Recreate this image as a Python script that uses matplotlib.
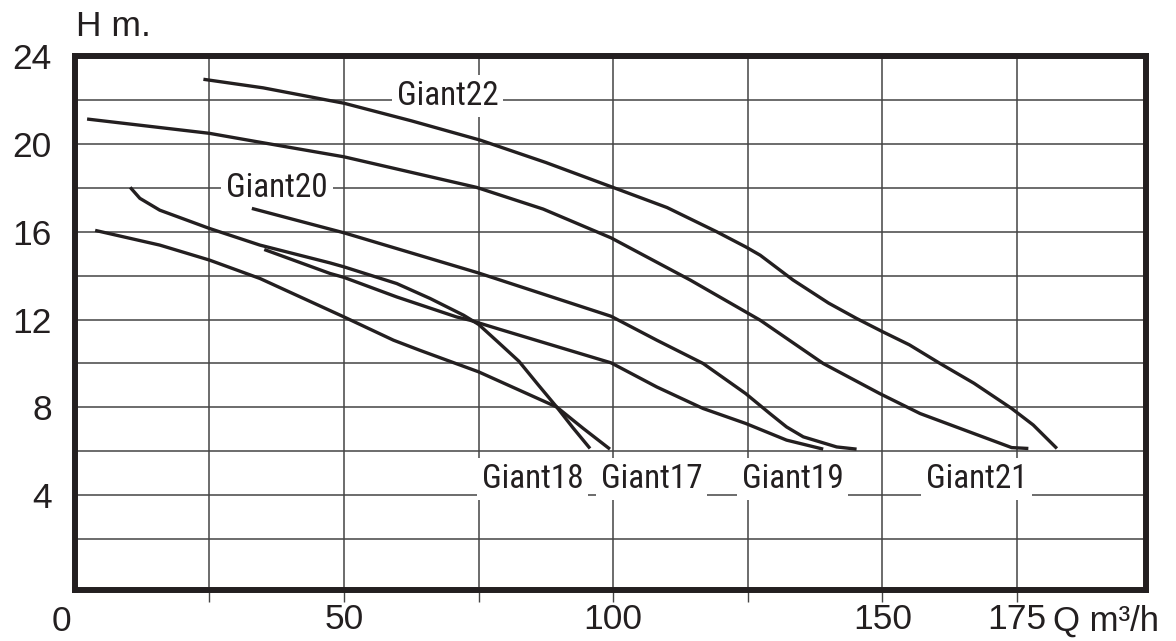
import matplotlib
matplotlib.use("Agg")
import matplotlib.pyplot as plt
from matplotlib import font_manager

# -------------------------------------------------
# Data
# -------------------------------------------------

# Giant22 (top curve)
g22_q = [23.9, 35.0, 46.1, 50.0, 62.5, 75.3, 87.5, 99.6, 110.0, 119.2, 124.6, 127.3,
         133.4, 140.0, 145.2, 150.0, 155.0, 160.7, 167.0, 174.0, 178.0, 182.4]
g22_h = [22.94, 22.55, 22.03, 21.85, 21.05, 20.17, 19.15, 18.05, 17.1, 16.0, 15.31, 14.93,
         13.8, 12.75, 12.05, 11.45, 10.85, 10.0, 9.1, 7.95, 7.2, 6.13]

# Giant21
g21_q = [2.3, 25.0, 33.8, 50.0, 74.6, 87.0, 99.6, 114.3, 127.3, 139.0, 149.5, 157.0, 174.0, 177.1]
g21_h = [21.13, 20.48, 20.1, 19.41, 18.02, 17.03, 15.72, 13.8, 11.97, 10.0, 8.63, 7.72, 6.17, 6.13]

# Giant20
g20_q = [32.9, 50.0, 75.0, 99.6, 108.1, 116.7, 124.6, 129.1, 132.2, 135.3, 141.5, 145.2]
g20_h = [17.06, 15.95, 14.12, 12.15, 11.06, 10.0, 8.63, 7.72, 7.11, 6.66, 6.2, 6.1]

# Giant19
g19_q = [35.2, 47.4, 50.0, 59.8, 70.9, 73.4, 79.0, 99.6, 108.1, 116.7, 124.6, 132.2, 139.0]
g19_h = [15.19, 14.1, 13.92, 13.03, 12.12, 11.97, 11.55, 10.03, 8.93, 7.95, 7.27, 6.51, 6.1]

# Giant18
g18_q = [10.3, 12.1, 15.8, 25.0, 34.4, 47.4, 50.0, 59.8, 66.0, 72.2, 75.0,
         78.5, 82.5, 86.0, 89.5, 92.5, 95.7]
g18_h = [18.02, 17.52, 16.98, 16.15, 15.39, 14.58, 14.4, 13.64, 12.96, 12.2, 11.78,
         11.0, 10.1, 9.05, 8.02, 7.08, 6.13]

# Giant17
g17_q = [3.8, 15.8, 25.0, 34.4, 50.0, 59.2, 64.1, 75.0, 89.5, 94.4, 99.4]
g17_h = [16.06, 15.39, 14.71, 13.87, 12.12, 11.06, 10.6, 9.62, 8.02, 7.05, 6.1]

curves = [(g22_q, g22_h), (g21_q, g21_h), (g20_q, g20_h),
          (g19_q, g19_h), (g18_q, g18_h), (g17_q, g17_h)]

# curve labels: text, x, baseline y
label_text = ["Giant22", "Giant20", "Giant18", "Giant17", "Giant19", "Giant21"]
label_x = [69.2, 37.6, 85.0, 107.1, 133.3, 167.5]
label_y = [21.77, 17.59, 4.31, 4.31, 4.31, 4.31]

x_ticks = [25, 50, 75, 100, 125, 150, 175]
x_tick_labels = ["", "50", "", "100", "", "150", "175"]
y_ticks = [4, 8, 12, 16, 20, 24]
y_minor = [2, 6, 10, 14, 18, 22]

INK = "#231f20"
GRID = "#444444"
TICK_FONT = "Liberation Sans"


def narrow_family():
    # the curve labels are set in a condensed face; use one if installed
    for fam in ["Liberation Sans Narrow", "Roboto Condensed", "Noto Sans Condensed",
                "Open Sans Condensed"]:
        try:
            font_manager.findfont(font_manager.FontProperties(family=fam),
                                  fallback_to_default=False)
            return fam
        except ValueError:
            pass
    return "Liberation Sans"


# -------------------------------------------------
# Plot
# -------------------------------------------------

fig = plt.figure(figsize=(11.76, 6.41), dpi=100)
ax = fig.add_axes([74.7 / 1176, (641 - 589.7) / 641, 1071.6 / 1176, 533.7 / 641])

ax.set_xlim(0, 199)
ax.set_ylim(-0.3, 24)

for q, h in curves:
    ax.plot(q, h, color=INK, lw=2.4, solid_joinstyle="round",
            solid_capstyle="butt", zorder=4)

# size the label font so "Giant18" is about as wide as in the reference
label_family = narrow_family()
renderer = fig.canvas.get_renderer()
probe = ax.text(0, 0, "Giant18", fontsize=26, family=label_family)
probe_w = probe.get_window_extent(renderer).width
probe.remove()
label_size = min(26, 26 * 102 / probe_w)

for txt, lx, ly in zip(label_text, label_x, label_y):
    ax.text(lx, ly, txt, ha="center", va="baseline", fontsize=label_size,
            family=label_family, color=INK, zorder=3,
            bbox=dict(boxstyle="square,pad=0.15", fc="white", ec="none"))

ax.set_xticks(x_ticks)
ax.set_xticklabels(x_tick_labels)
ax.set_yticks(y_ticks)
ax.set_yticks(y_minor, minor=True)

ax.grid(True, which="both", color=GRID, lw=1.1, zorder=1)
ax.set_axisbelow(True)

ax.tick_params(axis="x", which="major", direction="out", length=8.5, width=1.0,
               color=GRID, pad=1, labelsize=25.5, labelcolor=INK)
ax.tick_params(axis="y", which="both", length=0, pad=16.5, labelsize=25.5,
               labelcolor=INK)
for lbl in ax.get_xticklabels() + ax.get_yticklabels():
    lbl.set_family(TICK_FONT)

for sp in ax.spines.values():
    sp.set_linewidth(4.3)
    sp.set_color(INK)
    sp.set_zorder(5)

fig.text(61 / 1176, 1 - 621.7 / 641, "0", ha="center", va="center",
         fontsize=25.5, family=TICK_FONT, color=INK)
fig.text(1053 / 1176, 1 - 621.7 / 641, "Q m\u00b3/h", ha="left", va="center",
         fontsize=25, family=TICK_FONT, color=INK)
fig.text(76 / 1176, 1 - 27 / 641, "H m.", ha="left", va="center",
         fontsize=25.5, family=TICK_FONT, color=INK)

fig.savefig("out.png", dpi=100)
